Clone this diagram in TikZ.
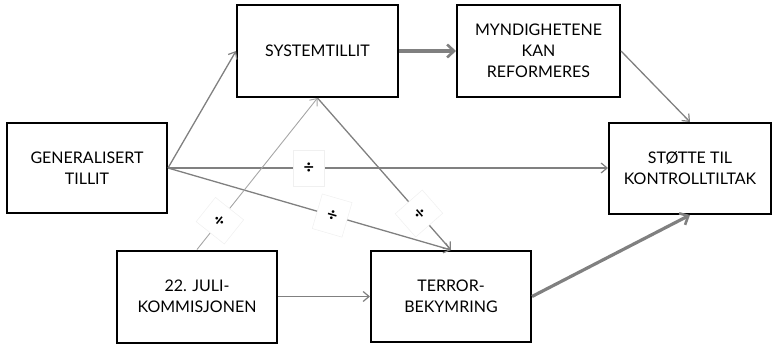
\documentclass[tikz,border=0pt]{standalone}
\usepackage{fontspec}
\setmainfont{Lato}
\usetikzlibrary{arrows.meta}
\definecolor{lgray}{RGB}{128,128,128}
\tikzset{
  box/.style={draw=black, line width=2pt, fill=white, align=center, font=\fontsize{16}{21}\selectfont, inner sep=0pt},
  conn/.style={draw=lgray, line width=1.3pt, -{Straight Barb[length=6pt,width=10pt,line width=1.2pt]}},
  faint/.style={draw=lgray!70, line width=0.9pt, -{Straight Barb[length=6pt,width=10pt,line width=1pt]}},
  thick conn/.style={draw=lgray, line width=3.2pt, -{Straight Barb[length=7pt,width=13pt,line width=2.6pt]}},
  lbl/.style={draw=gray!12, line width=0.5pt, fill=white, minimum width=31pt, minimum height=36pt, inner sep=0pt, font=\fontsize{18}{18}\selectfont\bfseries}
}
\begin{document}
\begin{tikzpicture}[x=1pt,y=-1pt]
\useasboundingbox (0,0) rectangle (773,345);
\node[box, minimum width=160pt, minimum height=90pt] (gt) at (87,168) {GENERALISERT\\TILLIT};
\node[box, minimum width=161pt, minimum height=92pt] (sys) at (317.5,51) {SYSTEMTILLIT};
\node[box, minimum width=163pt, minimum height=92pt] (myn) at (538.5,51) {MYNDIGHETENE\\KAN\\REFORMERES};
\node[box, minimum width=162pt, minimum height=91pt] (st) at (690,168.5) {STØTTE TIL\\KONTROLLTILTAK};
\node[box, minimum width=160pt, minimum height=92pt] (juli) at (197,296.5) {22. JULI-\\KOMMISJONEN};
\node[box, minimum width=160pt, minimum height=91pt] (ter) at (451,296.5) {TERROR-\\BEKYMRING};

\draw[conn] (gt.east) -- (sys.west);
\draw[conn] (gt.east) -- node[lbl, pos=0.32] (l1) {÷} (gt.east -| st.west);
\draw[conn] (gt.east) -- node[lbl, pos=0.58, sloped] (l2) {÷} (ter.north);
\draw[faint] (juli.north) -- node[lbl, pos=0.19, sloped] (l3) {÷} (sys.south);
\draw[conn] (sys.south) -- node[lbl, pos=0.76, sloped] (l4) {÷} (ter.north);
\draw[conn] (juli.east) -- (ter.west);
\draw[thick conn] (sys.east) -- (myn.west);
\draw[conn] (myn.east) -- (st.north);
\draw[thick conn] (ter.east) -- (st.south);
\end{tikzpicture}
\end{document}
